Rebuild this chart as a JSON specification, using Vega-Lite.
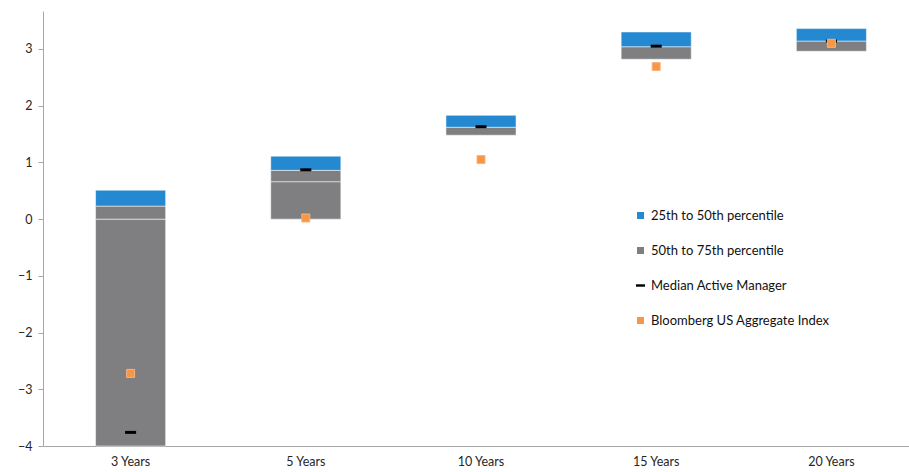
{
  "$schema": "https://vega.github.io/schema/vega-lite/v6.json",
  "width": 866,
  "height": 435,
  "autosize": {"type": "none"},
  "padding": {"left": 43, "top": 11, "right": 0, "bottom": 26},
  "background": "white",
  "config": {"view": {"stroke": null}, "font": "Lato"},
  "datasets": {
    "bars": [
      {"period": "3 Years", "series": "50th to 75th percentile", "low": -4.0, "high": 0.0},
      {"period": "3 Years", "series": "50th to 75th percentile", "low": 0.0, "high": 0.23},
      {"period": "3 Years", "series": "25th to 50th percentile", "low": 0.23, "high": 0.51},
      {"period": "5 Years", "series": "50th to 75th percentile", "low": 0.0, "high": 0.66},
      {"period": "5 Years", "series": "50th to 75th percentile", "low": 0.66, "high": 0.86},
      {"period": "5 Years", "series": "25th to 50th percentile", "low": 0.86, "high": 1.11},
      {"period": "10 Years", "series": "50th to 75th percentile", "low": 1.48, "high": 1.62},
      {"period": "10 Years", "series": "25th to 50th percentile", "low": 1.62, "high": 1.83},
      {"period": "15 Years", "series": "50th to 75th percentile", "low": 2.82, "high": 3.04},
      {"period": "15 Years", "series": "25th to 50th percentile", "low": 3.04, "high": 3.3},
      {"period": "20 Years", "series": "50th to 75th percentile", "low": 2.96, "high": 3.14},
      {"period": "20 Years", "series": "25th to 50th percentile", "low": 3.14, "high": 3.36}
    ],
    "median": [
      {"period": "3 Years", "series": "Median Active Manager", "value": -3.76},
      {"period": "5 Years", "series": "Median Active Manager", "value": 0.87},
      {"period": "10 Years", "series": "Median Active Manager", "value": 1.63},
      {"period": "15 Years", "series": "Median Active Manager", "value": 3.05},
      {"period": "20 Years", "series": "Median Active Manager", "value": 3.14}
    ],
    "index": [
      {"period": "3 Years", "series": "Bloomberg US Aggregate Index", "value": -2.72},
      {"period": "5 Years", "series": "Bloomberg US Aggregate Index", "value": 0.02},
      {"period": "10 Years", "series": "Bloomberg US Aggregate Index", "value": 1.05},
      {"period": "15 Years", "series": "Bloomberg US Aggregate Index", "value": 2.69},
      {"period": "20 Years", "series": "Bloomberg US Aggregate Index", "value": 3.1}
    ]
  },
  "encoding": {
    "x": {
      "field": "period",
      "type": "nominal",
      "sort": ["3 Years", "5 Years", "10 Years", "15 Years", "20 Years"],
      "scale": {"paddingInner": 0.6, "paddingOuter": 0.3, "range": [0, 876]},
      "axis": {
        "title": null,
        "labelAngle": 0,
        "ticks": false,
        "domainColor": "#a6a6a6",
        "domainWidth": 1,
        "labelPadding": 9,
        "labelFontSize": 12.5,
        "labelColor": "#262626"
      }
    },
    "color": {
      "field": "series",
      "type": "nominal",
      "scale": {
        "domain": ["25th to 50th percentile", "50th to 75th percentile", "Median Active Manager", "Bloomberg US Aggregate Index"],
        "range": ["#2589d1", "#7f7f81", "#000000", "#f79646"]
      },
      "legend": {
        "title": null,
        "orient": "none",
        "legendX": 591,
        "legendY": 198,
        "symbolSize": 49,
        "symbolStrokeWidth": 0,
        "labelFontSize": 13,
        "labelColor": "#111111",
        "labelOffset": 4,
        "labelLimit": 400,
        "rowPadding": 21
      }
    }
  },
  "layer": [
    {
      "data": {"name": "bars"},
      "mark": {"type": "bar", "stroke": "#ffffff", "strokeOpacity": 0.5, "strokeWidth": 1},
      "encoding": {
        "y": {
          "field": "low",
          "type": "quantitative",
          "scale": {"domain": [-4, 3.67], "nice": false, "zero": false},
          "axis": {
            "title": null,
            "values": [-4, -3, -2, -1, 0, 1, 2, 3],
            "format": "d",
            "grid": false,
            "domainColor": "#a6a6a6",
            "tickColor": "#a6a6a6",
            "tickSize": 5,
            "labelPadding": 6,
            "labelFontSize": 12.5,
            "labelColor": "#262626"
          }
        },
        "y2": {"field": "high"}
      }
    },
    {
      "data": {"name": "median"},
      "mark": {"type": "point", "filled": true, "size": 72, "opacity": 1},
      "encoding": {
        "y": {"field": "value", "type": "quantitative"},
        "shape": {
          "field": "series",
          "type": "nominal",
          "scale": {
            "domain": ["25th to 50th percentile", "50th to 75th percentile", "Median Active Manager", "Bloomberg US Aggregate Index"],
            "range": ["square", "square", "M-1.3,-0.35H1.3V0.35H-1.3Z", "square"]
          },
          "legend": {
            "title": null,
            "orient": "none",
            "legendX": 591,
            "legendY": 198,
            "symbolSize": 49,
            "symbolStrokeWidth": 0,
            "labelFontSize": 13,
            "labelColor": "#111111",
            "labelOffset": 4,
            "labelLimit": 400,
            "rowPadding": 21
          }
        }
      }
    },
    {
      "data": {"name": "index"},
      "mark": {"type": "point", "filled": true, "size": 64, "opacity": 1, "stroke": "#f9b27e", "strokeWidth": 1},
      "encoding": {
        "y": {"field": "value", "type": "quantitative"},
        "shape": {"field": "series", "type": "nominal"}
      }
    }
  ]
}
